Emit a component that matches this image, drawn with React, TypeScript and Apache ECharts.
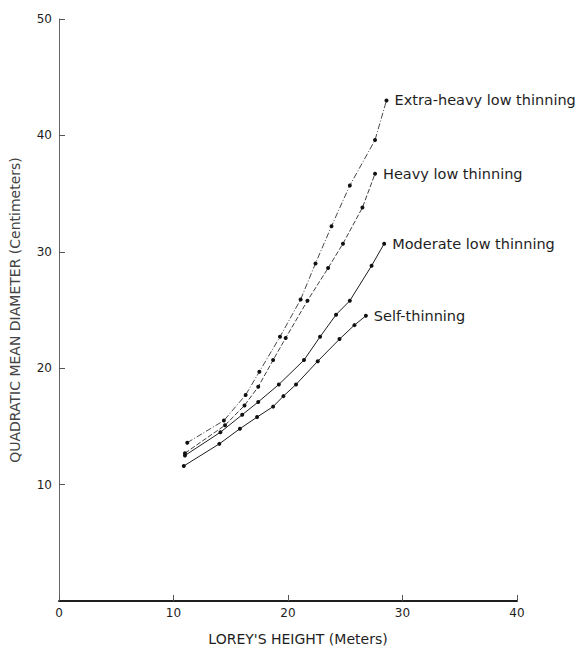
import React, { useEffect, useRef } from "react";
import * as echarts from "echarts";

// Lorey's height (m) and quadratic mean diameter (cm)
const extraHeavyX = [11.2, 14.4, 16.3, 17.5, 19.3, 21.1, 22.4, 23.8, 25.4, 27.6, 28.6];
const extraHeavyY = [13.6, 15.5, 17.7, 19.7, 22.7, 25.9, 29.0, 32.2, 35.7, 39.6, 43.0];

const heavyX = [11.0, 14.5, 16.2, 17.4, 18.7, 19.8, 21.7, 23.5, 24.8, 26.5, 27.6];
const heavyY = [12.7, 15.1, 16.8, 18.4, 20.7, 22.6, 25.8, 28.6, 30.7, 33.8, 36.7];

const moderateX = [11.0, 14.1, 16.0, 17.4, 19.2, 21.4, 22.8, 24.2, 25.4, 27.3, 28.4];
const moderateY = [12.5, 14.5, 16.0, 17.1, 18.6, 20.7, 22.7, 24.6, 25.8, 28.8, 30.7];

const selfX = [10.9, 14.0, 15.8, 17.3, 18.7, 19.6, 20.7, 22.6, 24.5, 25.8, 26.8];
const selfY = [11.6, 13.5, 14.8, 15.8, 16.7, 17.6, 18.6, 20.6, 22.5, 23.7, 24.5];

const seriesNames = [
  "Extra-heavy low thinning",
  "Heavy low thinning",
  "Moderate low thinning",
  "Self-thinning",
];

const xAxisName = "LOREY'S HEIGHT (Meters)";
const yAxisName = "QUADRATIC MEAN DIAMETER (Centimeters)";

const FONT = "DejaVu Sans";
const INK = "#1e1e1e";

function pairs(xs: number[], ys: number[]) {
  return xs.map((x, i) => [x, ys[i]]);
}

export default function App() {
  const ref = useRef<HTMLDivElement>(null);

  useEffect(() => {
    if (!ref.current) return;
    const chart = echarts.init(ref.current, undefined, { renderer: "svg" });

    const sets = [
      { name: seriesNames[0], data: pairs(extraHeavyX, extraHeavyY), type: [6, 2, 1, 2] as any, width: 0.9, color: "#333" },
      { name: seriesNames[1], data: pairs(heavyX, heavyY), type: [5, 2] as any, width: 0.9, color: "#2a2a2a" },
      { name: seriesNames[2], data: pairs(moderateX, moderateY), type: "solid", width: 1, color: INK },
      { name: seriesNames[3], data: pairs(selfX, selfY), type: "solid", width: 1, color: INK },
    ];

    chart.setOption({
      animation: false,
      backgroundColor: "#ffffff",
      grid: { left: 57, right: 70, top: 19, bottom: 47, containLabel: false },
      xAxis: {
        type: "value",
        min: 0,
        max: 40,
        interval: 10,
        name: xAxisName,
        nameLocation: "middle",
        nameGap: 31,
        nameTextStyle: { fontFamily: FONT, fontSize: 14, color: INK, padding: [0, 0, 0, 20] },
        axisLine: { show: true, onZero: false, lineStyle: { color: INK, width: 2 } },
        axisTick: { show: true, inside: true, length: 6, lineStyle: { color: "#555", width: 1 } },
        axisLabel: { fontFamily: FONT, fontSize: 12, color: INK, margin: 6 },
        splitLine: { show: false },
      },
      yAxis: {
        type: "value",
        min: 0,
        max: 50,
        interval: 10,
        name: yAxisName,
        nameLocation: "middle",
        nameGap: 37,
        nameRotate: 90,
        nameTextStyle: { fontFamily: FONT, fontSize: 14, color: "#444" },
        axisLine: { show: true, onZero: false, lineStyle: { color: "#666", width: 1 } },
        axisTick: { show: true, inside: true, length: 6, lineStyle: { color: "#555", width: 1 } },
        axisLabel: { fontFamily: FONT, fontSize: 12, color: INK, margin: 7, showMinLabel: false },
        splitLine: { show: false },
      },
      series: sets.map((s) => ({
        type: "line",
        name: s.name,
        data: s.data,
        symbol: "circle",
        symbolSize: 4,
        itemStyle: { color: "#111" },
        lineStyle: { color: s.color, width: s.width, type: s.type },
        endLabel: {
          show: true,
          formatter: s.name,
          distance: 8,
          fontFamily: FONT,
          fontSize: 14.5,
          color: INK,
        },
      })),
    });

    return () => chart.dispose();
  }, []);

  return (
    <div
      ref={ref}
      style={{ position: "fixed", left: 0, top: 0, width: 587, height: 651, background: "#fff" }}
    />
  );
}
